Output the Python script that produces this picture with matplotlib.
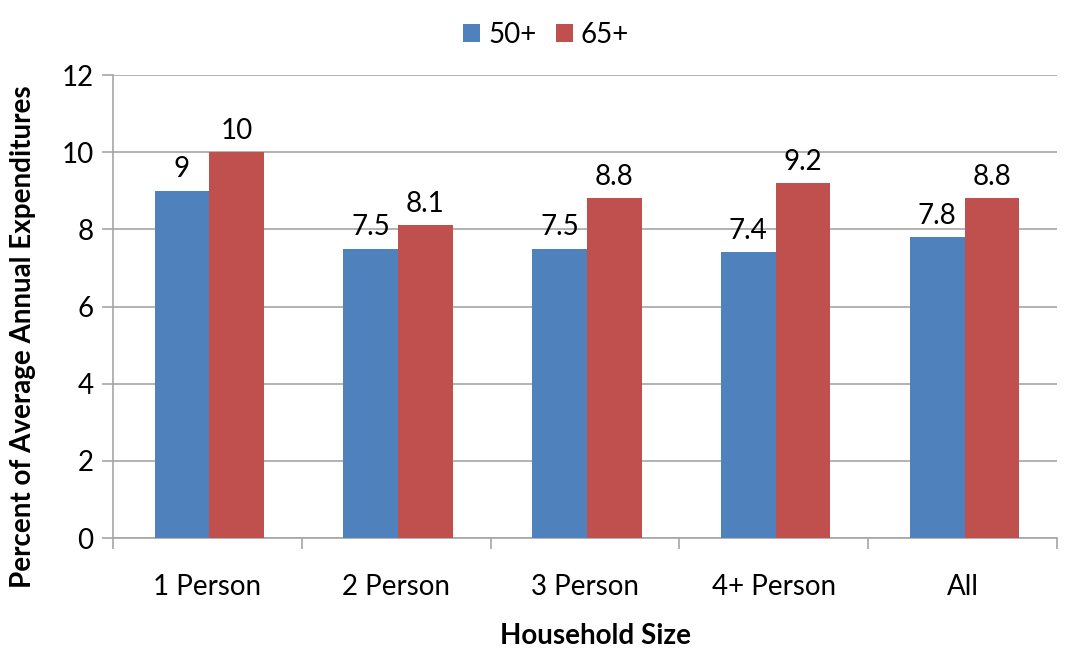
import numpy as np
import matplotlib.pyplot as plt

plt.rcParams['font.family'] = ['Lato', 'DejaVu Sans']

categories = ["1 Person", "2 Person", "3 Person", "4+ Person", "All"]
age_50 = [9, 7.5, 7.5, 7.4, 7.8]
age_65 = [10, 8.1, 8.8, 9.2, 8.8]
label_50 = ["9", "7.5", "7.5", "7.4", "7.8"]
label_65 = ["10", "8.1", "8.8", "9.2", "8.8"]

blue = "#4f81bd"
red = "#c0504d"
grid_col = "#a6a6a6"

fig = plt.figure(figsize=(10.69, 6.5), dpi=100)
ax = fig.add_axes([0.1057, 0.1723, 0.8831, 0.7123])

x = np.arange(len(categories))
w = 0.29
b1 = ax.bar(x - w / 2 + 0.01, age_50, w, color=blue, label="50+", zorder=3)
b2 = ax.bar(x + w / 2 + 0.01, age_65, w, color=red, label="65+", zorder=3)

for bars, labels in [(b1, label_50), (b2, label_65)]:
    for bar, lab in zip(bars, labels):
        ax.text(bar.get_x() + bar.get_width() / 2, bar.get_height() + 0.22, lab,
                ha="center", va="bottom", fontsize=20)

ax.set_xlim(-0.5, len(categories) - 0.5)
ax.set_ylim(0, 12)
ax.set_yticks(range(0, 13, 2))
ax.yaxis.grid(True, color=grid_col, linewidth=1.2, zorder=0)
ax.set_xticks(x)
ax.set_xticklabels(categories, fontsize=20)
ax.set_xticks(np.arange(-0.5, len(categories), 1), minor=True)
ax.tick_params(axis="x", which="major", length=0, pad=26)
ax.tick_params(axis="x", which="minor", length=8, color=grid_col, width=1.2)
ax.tick_params(axis="y", labelsize=20, length=8, color=grid_col, width=1.2, pad=6)

for s in ["top", "right"]:
    ax.spines[s].set_visible(False)
for s in ["left", "bottom"]:
    ax.spines[s].set_color(grid_col)
    ax.spines[s].set_linewidth(1.2)

# axis titles placed to match the original layout
fig.text(596 / 1069, 1 - 636 / 650, "Household Size", fontsize=20, fontweight="bold",
         ha="center", va="center")
fig.text(23 / 1069, 1 - 337 / 650, "Percent of Average Annual Expenditures", fontsize=20,
         fontweight="bold", rotation=90, ha="center", va="center")

fig.legend(handles=[b1, b2], loc="upper center", bbox_to_anchor=(0.511, 1.005), ncol=2,
           frameon=False, fontsize=20, handlelength=0.6, handleheight=0.6,
           handletextpad=0.3, columnspacing=0.7)

fig.savefig("out.png", dpi=100)
